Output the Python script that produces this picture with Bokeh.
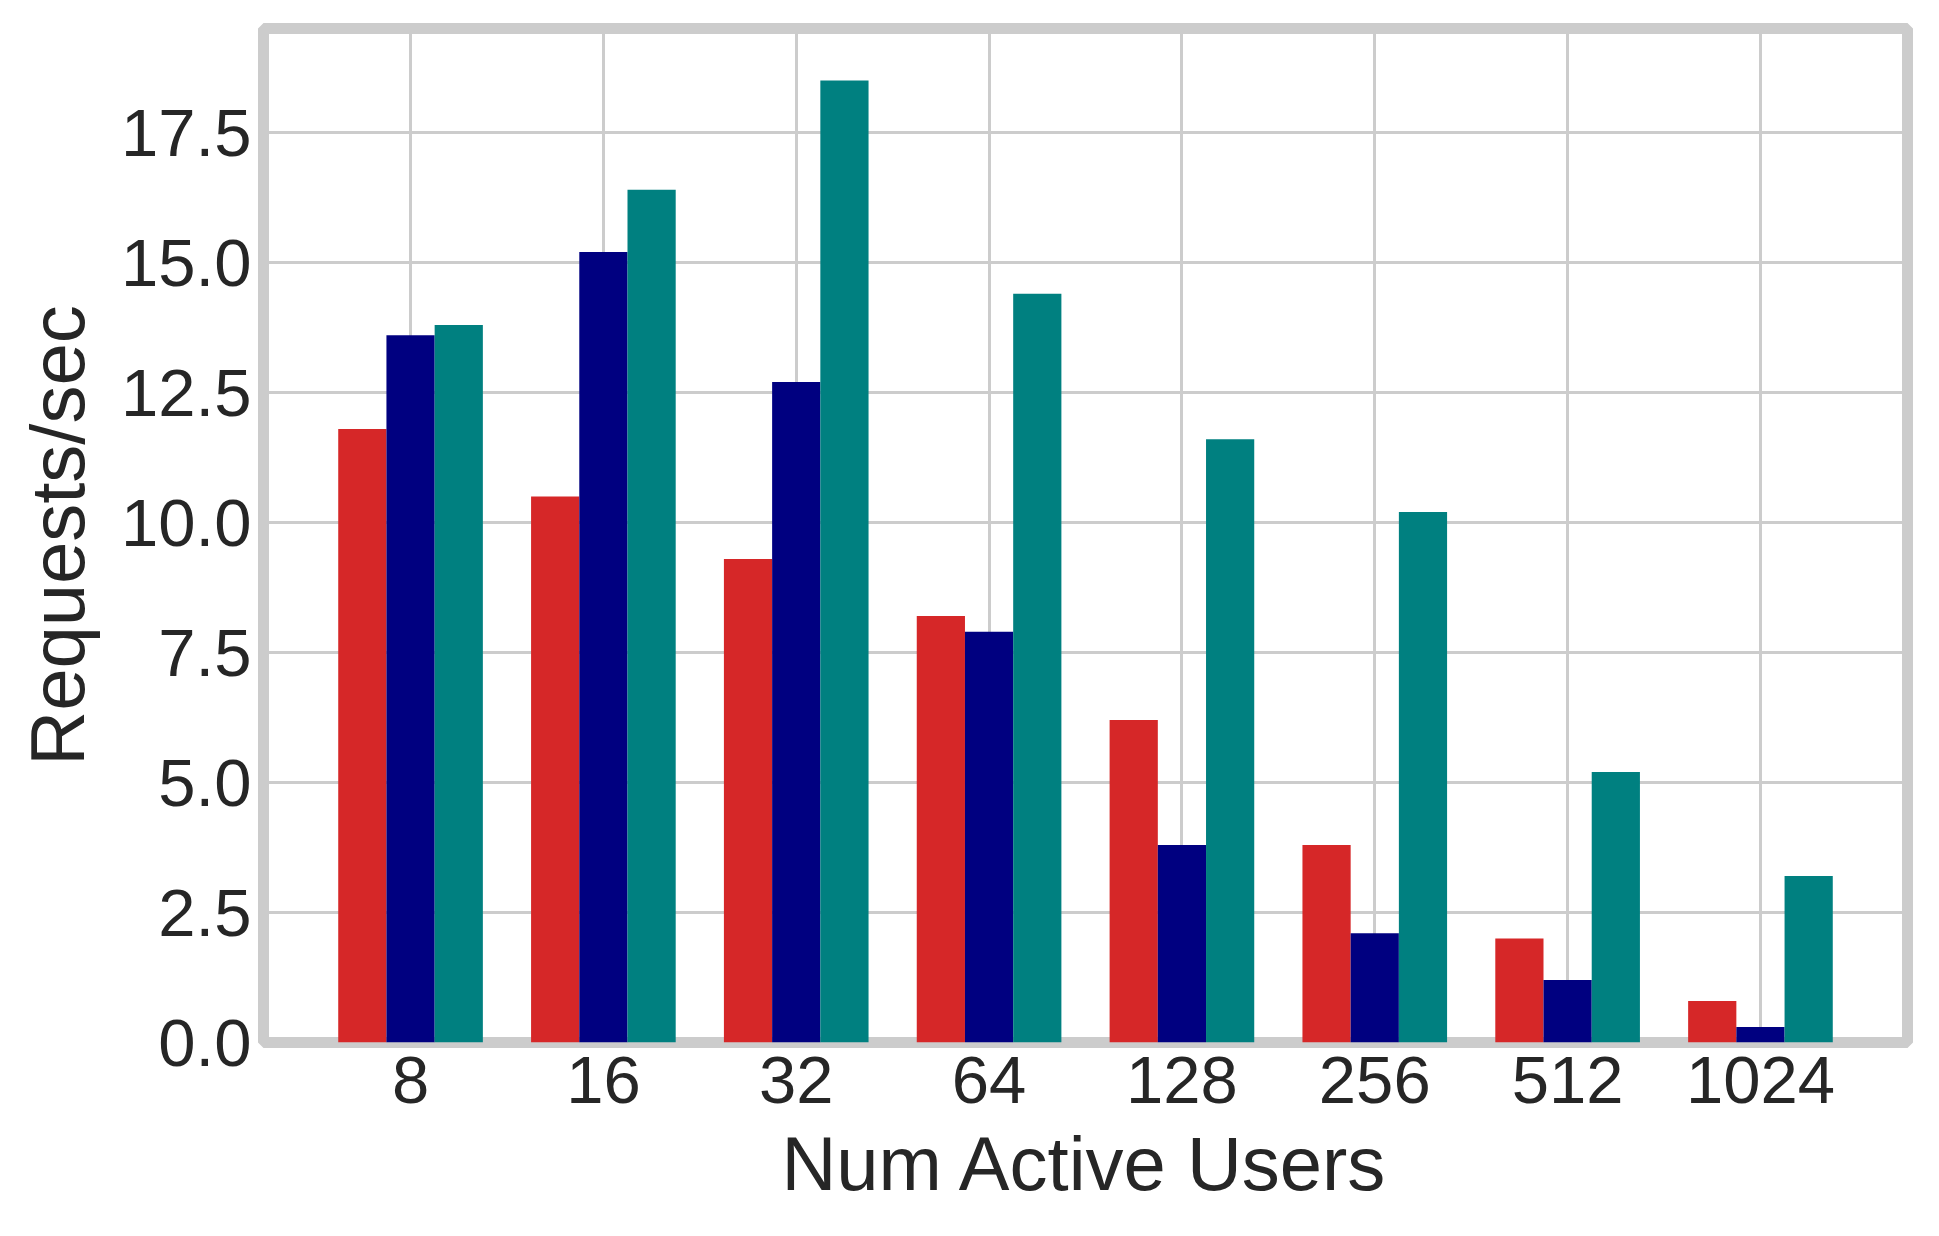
from bokeh.plotting import figure
from bokeh.models import ColumnDataSource, FactorRange, Range1d, FixedTicker, PrintfTickFormatter
from bokeh.transform import dodge
from bokeh.embed import file_html
from bokeh.resources import INLINE

users = ["8", "16", "32", "64", "128", "256", "512", "1024"]
series_a = [11.8, 10.5, 9.3, 8.2, 6.2, 3.8, 2.0, 0.8]
series_b = [13.6, 15.2, 12.7, 7.9, 3.8, 2.1, 1.2, 0.3]
series_c = [13.8, 16.4, 18.5, 14.4, 11.6, 10.2, 5.2, 3.2]
y_ticks = [0.0, 2.5, 5.0, 7.5, 10.0, 12.5, 15.0, 17.5]

src = ColumnDataSource(dict(users=users, a=series_a, b=series_b, c=series_c))

xr = FactorRange(factors=users, range_padding=0.2625, range_padding_units="absolute")
p = figure(x_range=xr, y_range=Range1d(0, 19.5), width=1923, height=1220,
           output_backend="svg", toolbar_location=None,
           min_border_left=263, min_border_right=16, min_border_top=28, min_border_bottom=178)

w = 0.25
p.vbar(x=dodge("users", -0.25, range=p.x_range), top="a", width=w, source=src,
       fill_color="#d62728", line_color=None)
p.vbar(x=dodge("users", 0.0, range=p.x_range), top="b", width=w, source=src,
       fill_color="#000080", line_color=None)
p.vbar(x=dodge("users", 0.25, range=p.x_range), top="c", width=w, source=src,
       fill_color="#008080", line_color=None)

p.background_fill_color = "white"
p.border_fill_color = "white"
p.outline_line_color = "#cccccc"
p.outline_line_width = 11

p.yaxis.ticker = FixedTicker(ticks=y_ticks)
p.yaxis.formatter = PrintfTickFormatter(format="%.1f")

for ax in (p.xaxis[0], p.yaxis[0]):
    ax.axis_line_color = None
    ax.major_tick_line_color = None
    ax.minor_tick_line_color = None
    ax.major_label_text_font = "Liberation Sans"
    ax.major_label_text_font_size = "67px"
    ax.major_label_text_color = "#262626"
    ax.axis_label_text_font = "Liberation Sans"
    ax.axis_label_text_font_size = "76px"
    ax.axis_label_text_font_style = "normal"
    ax.axis_label_text_color = "#262626"

p.xaxis.axis_label = "Num Active Users"
p.yaxis.axis_label = "Requests/sec"
p.xaxis.major_label_standoff = 8
p.xaxis.axis_label_standoff = 15
p.yaxis.major_label_standoff = 6
p.yaxis.axis_label_standoff = 18

p.xgrid.grid_line_color = "#cccccc"
p.xgrid.grid_line_width = 3
p.ygrid.grid_line_color = "#cccccc"
p.ygrid.grid_line_width = 3
p.ygrid.ticker = FixedTicker(ticks=y_ticks)

open("out.html", "w").write(file_html(p, INLINE))
